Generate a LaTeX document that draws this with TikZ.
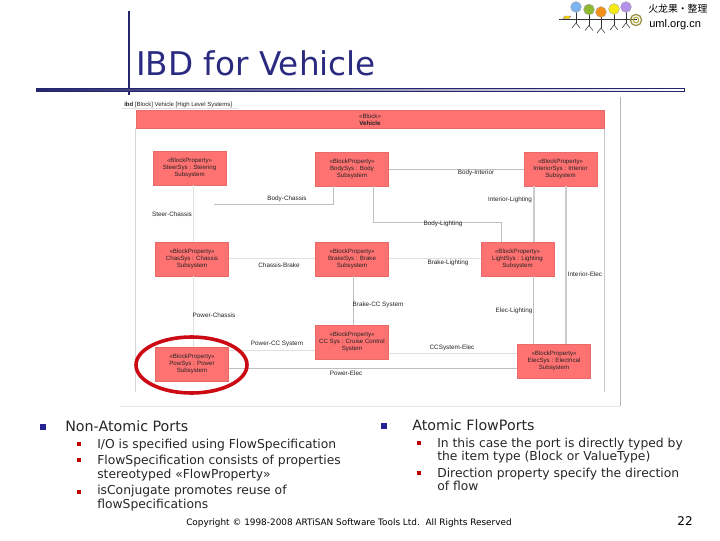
\documentclass[tikz,border=0pt]{standalone}
\usepackage{fontspec}
\setmainfont{DejaVu Sans}
\newfontfamily\arialf{Liberation Sans}
\newfontfamily\cjkf{Noto Sans CJK SC}
\definecolor{navy}{HTML}{2A2A80}
\definecolor{barnavy}{HTML}{25256E}
\definecolor{blockred}{HTML}{FF7272}
\definecolor{blockedge}{HTML}{E86A6A}
\definecolor{circred}{HTML}{CC0A14}
\definecolor{inktext}{HTML}{222222}
\tikzset{
  x=0.75pt,y=-0.75pt,
  blockbox/.style={draw=blockedge,fill=blockred,line width=0.4pt,inner sep=0pt,align=center,
    text=inktext,font=\arialf\fontsize{4.6pt}{5.3pt}\selectfont},
  lnthin/.style={draw=black!12,line width=0.55pt},
  lnmid/.style={draw=black!25,line width=0.75pt},
  lnthick/.style={draw=black!20,line width=1.4pt},
  conlabel/.style={inner sep=0pt,text=inktext,font=\arialf\fontsize{4.75pt}{5.5pt}\selectfont},
  bodytext/.style={anchor=base west,inner sep=0pt,text=black!85,align=left},
  lev1/.style={bodytext,font=\fontsize{10.7pt}{12pt}\selectfont},
  lev2/.style={bodytext,font=\fontsize{9.25pt}{10.3pt}\selectfont},
  bulblue/.style={fill=navy!85!blue,minimum size=4.2pt,inner sep=0pt},
  bulred/.style={fill=red!75!black,minimum size=3.6pt,inner sep=0pt},
  stick/.style={draw=black!80,line width=0.4pt},
  head/.style={draw=black!35,line width=0.3pt},
}
\begin{document}
\begin{tikzpicture}
\useasboundingbox (0,0) rectangle (720,540);
% title decoration
\draw[barnavy,line width=2pt] (129,11) -- (129,95);
\shade[left color=barnavy,right color=white,draw=barnavy,line width=0.6pt] (36,88.3) rectangle (684,91.3);
\node[anchor=base west,inner sep=0pt,text=navy,font=\fontsize{24.5pt}{30pt}\selectfont] (title) at (136,75.5) {IBD for Vehicle};
% logo
\foreach \cx/\cy/\col in {576/7/7DB4F0,589/9.5/8DB92E,601/12/F39019,614/9/F5EA14,626/7/B490E8}{
  \definecolor{hc}{HTML}{\col}
  \draw[stick] (\cx,\cy) -- (\cx,\cy+16);
  \draw[stick] (\cx-4,\cy+21) -- (\cx,\cy+16) -- (\cx+4,\cy+21);
  \filldraw[fill=hc,head] (\cx,\cy) circle[radius=5.4];
}
\draw[stick,line width=0.6pt] (559,19) -- (637,19);
\filldraw[fill=yellow!70!orange,draw=black!50,line width=0.3pt] (563,18.5) -- (565,16) -- (571,16) -- (569,18.5) -- cycle;
\draw[draw=yellow!55!black,line width=1pt] (636,20) circle[radius=5.6];
\draw[draw=yellow!65!black,line width=0.8pt] (636,20) circle[radius=2.8];
\node[anchor=base west,inner sep=0pt,font=\cjkf\fontsize{7.4pt}{9pt}\selectfont] (logotxt) at (648,12.5) {火龙果·整理};
\node[anchor=base west,inner sep=0pt,font=\arialf\fontsize{8.3pt}{9pt}\selectfont] (logourl) at (649,27) {uml.org.cn};
% screenshot frame
\coordinate (frNE) at (620,97);
\coordinate (frSE) at (620,406);
\coordinate (frSW) at (120,406);
\draw[black!10,line width=0.6pt] (frSW) -- (frSE);
\draw[black!28,line width=0.6pt] (frNE) -- (frSE);
\draw[black!12,line width=0.5pt] (122,108.5) -- (238,108.5);
\node[anchor=base west,inner sep=0pt,text=inktext,font=\arialf\fontsize{4.5pt}{5.4pt}\selectfont] (ibdlabel) at (124,106) {\textbf{ibd} [Block] Vehicle [High Level Systems]};
% block frame
\coordinate (bfSW) at (135.5,392);
\coordinate (bfSE) at (604.5,392);
\draw[black!16,line width=0.5pt] (135.5,128) -- (bfSW);
\draw[black!22,line width=0.6pt] (604.5,128) -- (bfSE);
\node[blockbox,minimum width=351.75pt-0.4pt,minimum height=13.5pt] (hdr) at (370,119.5) {«Block»\\\textbf{Vehicle}};
% blocks
\tikzset{bsize/.style={blockbox,minimum width=54.4pt,minimum height=25.5pt}}
\node[bsize] (steer) at (189.5,168) {«BlockProperty»\\SteerSys : Steering\\Subsystem};
\node[bsize] (body) at (352,169) {«BlockProperty»\\BodySys : Body\\Subsystem};
\node[bsize] (interior) at (560.5,169) {«BlockProperty»\\InteriorSys : Interior\\Subsystem};
\node[bsize] (chassis) at (192,259) {«BlockProperty»\\ChasSys : Chassis\\Subsystem};
\node[bsize] (brake) at (352,259) {«BlockProperty»\\BrakeSys : Brake\\Subsystem};
\node[bsize] (light) at (517.5,259) {«BlockProperty»\\LightSys : Lighting\\Subsystem};
\node[bsize] (cc) at (352,342) {«BlockProperty»\\CC Sys : Cruise Control\\System};
\node[bsize] (power) at (192,364) {«BlockProperty»\\PowSys : Power\\Subsystem};
\node[bsize] (elec) at (554,361) {«BlockProperty»\\ElecSys : Electrical\\Subsystem};
% connectors
\coordinate (bcEnd) at (214,204);
\draw[lnthin] (steer.south -| 193,0) -- (chassis.north -| 193,0);
\draw[lnmid] (body.south -| 333,0) |- (bcEnd);
\draw[lnmid] (body.east |- 0,169) -- (interior.west |- 0,169);
\draw[lnmid] (body.south -| 373,0) -- (373,222) -| (light.north -| 501,0);
\draw[lnthick] (interior.south -| 534,0) -- (light.north -| 534,0);
\draw[lnthick] (interior.south -| 566,0) -- (elec.north -| 566,0);
\draw[lnthin] (chassis.east |- 0,258) -- (brake.west |- 0,258);
\draw[lnthin] (brake.east |- 0,258) -- (light.west |- 0,258);
\draw[lnmid] (brake.south -| 353,0) -- (cc.north -| 353,0);
\draw[lnmid] (light.south -| 533,0) -- (elec.north -| 533,0);
\draw[lnthin] (chassis.south -| 193,0) -- (power.north -| 193,0);
\draw[lnthin] (power.east |- 0,350) -- (cc.west |- 0,350);
\draw[lnthin] (cc.east |- 0,353) -- (elec.west |- 0,353);
\draw[lnmid] (power.east |- 0,368) -- (elec.west |- 0,368);
% connector labels
\node[conlabel] (l1) at (287,199) {Body-Chassis};
\node[conlabel] (l2) at (172,214) {Steer-Chassis};
\node[conlabel] (l3) at (476,173) {Body-Interior};
\node[conlabel] (l4) at (510,200) {Interior-Lighting};
\node[conlabel] (l5) at (443,224) {Body-Lighting};
\node[conlabel] (l6) at (279,265) {Chassis-Brake};
\node[conlabel] (l7) at (448,263) {Brake-Lighting};
\node[conlabel] (l8) at (585,274) {Interior-Elec};
\node[conlabel] (l9) at (514,311) {Elec-Lighting};
\node[conlabel] (l10) at (378,305) {Brake-CC System};
\node[conlabel] (l11) at (214,315) {Power-Chassis};
\node[conlabel] (l12) at (277,344) {Power-CC System};
\node[conlabel] (l13) at (346,373) {Power-Elec};
\node[conlabel] (l14) at (452,348) {CCSystem-Elec};
% red ellipse
\draw[circred,line width=2.7pt] (191.5,365) ellipse[x radius=55.5,y radius=28];
% bullets
\node[bulblue] (b1) at (43,427) {};
\node[lev1] (t1) at (65,431) {Non-Atomic Ports};
\node[bulred] (b2) at (79,444) {};
\node[lev2] (t2) at (97,448) {I/O is specified using FlowSpecification};
\node[bulred] (b3) at (79,460) {};
\node[lev2] (t3) at (97,464) {FlowSpecification consists of properties};
\node[lev2] (t3b) at (97,478) {stereotyped «FlowProperty»};
\node[bulred] (b4) at (79,492) {};
\node[lev2] (t4) at (97,494) {isConjugate promotes reuse of};
\node[lev2] (t4b) at (97,508) {flowSpecifications};
\node[bulblue] (b5) at (384,426) {};
\node[lev1] (t5) at (412,430) {Atomic FlowPorts};
\node[bulred] (b6) at (419,443) {};
\node[lev2] (t6) at (437,447) {In this case the port is directly typed by};
\node[lev2] (t6b) at (437,460) {the item type (Block or ValueType)};
\node[bulred] (b7) at (419,473) {};
\node[lev2] (t7) at (437,477) {Direction property specify the direction};
\node[lev2] (t7b) at (437,490) {of flow};
% footer
\node[anchor=base west,inner sep=0pt,font=\fontsize{6.67pt}{8pt}\selectfont] (copy) at (186,525) {Copyright © 1998-2008 ARTiSAN Software Tools Ltd.\ \ All Rights Reserved};
\node[anchor=base east,inner sep=0pt,font=\fontsize{9pt}{10pt}\selectfont] (page) at (693,525) {22};
\end{tikzpicture}
\end{document}
